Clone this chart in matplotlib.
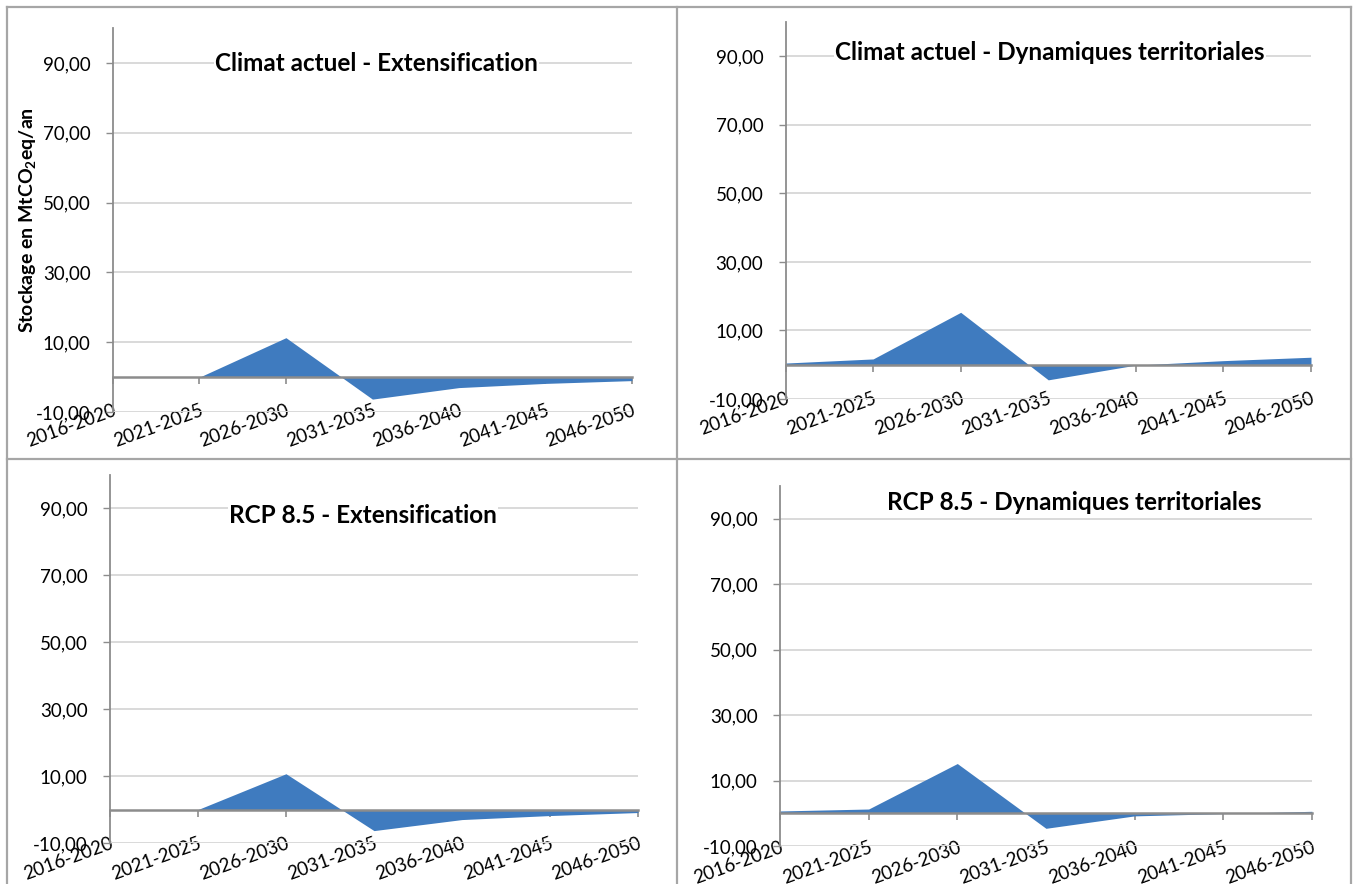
import matplotlib
matplotlib.use("Agg")
import matplotlib.pyplot as plt
from matplotlib.lines import Line2D

plt.rcParams['font.family'] = ['Lato', 'DejaVu Sans']
plt.rcParams['mathtext.fontset'] = 'custom'
plt.rcParams['mathtext.rm'] = 'Lato'
plt.rcParams['mathtext.bf'] = 'Lato:bold'

periods = ["2016-2020", "2021-2025", "2026-2030", "2031-2035",
           "2036-2040", "2041-2045", "2046-2050"]

actuel_extensification = [0.0, 0.0, 11.3, -6.3, -3.0, -1.8, -1.0]
actuel_dynamiques = [0.5, 1.7, 15.3, -4.4, -0.1, 1.2, 2.2]
rcp85_extensification = [0.0, 0.0, 10.7, -6.3, -3.0, -1.8, -0.9]
rcp85_dynamiques = [0.7, 1.3, 15.2, -4.6, -0.8, -0.1, 0.6]

titles = ["Climat actuel - Extensification",
          "Climat actuel - Dynamiques territoriales",
          "RCP 8.5 - Extensification",
          "RCP 8.5 - Dynamiques territoriales"]

y_ticks = [-10, 10, 30, 50, 70, 90]
y_min, y_max = -10, 100

FILL = "#3f7bbf"
AXIS = "#8c8c8c"
GRID = "#d9d9d9"
BORDER = "#a6a6a6"

# layout: axes rectangle (figure fraction) and title position (axes fraction)
panels = [
    (actuel_extensification, titles[0], [0.0833, 0.5339, 0.3827, 0.4344], (0.508, 0.908)),
    (actuel_dynamiques, titles[1], [0.5793, 0.5486, 0.3875, 0.4265], (0.503, 0.918)),
    (rcp85_extensification, titles[2], [0.0811, 0.0464, 0.3894, 0.4163], (0.479, 0.889)),
    (rcp85_dynamiques, titles[3], [0.5752, 0.0430, 0.3923, 0.4072], (0.553, 0.953)),
]

fig = plt.figure(figsize=(13.56, 8.84), dpi=100)

x = list(range(len(periods)))
for i, (values, title, rect, title_pos) in enumerate(panels):
    ax = fig.add_axes(rect)

    # move the category axis to zero first (this resets the ticks)
    for side in ["top", "right"]:
        ax.spines[side].set_visible(False)
    ax.spines["bottom"].set_position(("data", 0))
    ax.spines["bottom"].set_color(AXIS)
    ax.spines["bottom"].set_linewidth(1.8)
    ax.spines["bottom"].set_zorder(3)
    ax.spines["left"].set_color(AXIS)
    ax.spines["left"].set_linewidth(1.3)

    ax.fill_between(x, 0, values, color=FILL, lw=0)
    ax.set_xlim(x[0], x[-1])
    ax.set_ylim(y_min, y_max)

    ax.set_yticks(y_ticks)
    ax.set_yticklabels([f"{v:.2f}".replace(".", ",") for v in y_ticks], fontsize=13.5)
    ax.set_xticks(x)
    ax.set_xticklabels(periods, rotation=20, ha="right", va="top",
                       rotation_mode="anchor", fontsize=13.5)

    ax.yaxis.grid(True, color=GRID, lw=1.4)
    ax.set_axisbelow(True)

    ax.tick_params(axis="x", direction="out", length=5, width=1.2, color=AXIS, pad=13)
    ax.tick_params(axis="y", direction="out", length=5, width=1.0, color=AXIS, pad=11)

    ax.text(title_pos[0], title_pos[1], title, transform=ax.transAxes,
            ha="center", va="center", fontsize=17.5, fontweight="bold",
            bbox=dict(facecolor="white", edgecolor="none", pad=1))

    if i == 0:
        ax.set_ylabel(r"Stockage en MtCO$_\mathbf{2}$eq/an", fontsize=14,
                      fontweight="bold")
        ax.yaxis.set_label_coords(-0.142, 0.5)

# table borders around the four charts
border_lines = [
    ([0.0052, 0.9963], [0.992, 0.992]),
    ([0.0052, 0.0052], [0.0, 0.992]),
    ([0.9963, 0.9963], [0.0, 0.992]),
    ([0.4993, 0.4993], [0.0, 0.992]),
    ([0.0052, 0.9963], [0.4808, 0.4808]),
]
for xs, ys in border_lines:
    fig.add_artist(Line2D(xs, ys, color=BORDER, lw=1.6, transform=fig.transFigure))

fig.savefig("out.png", dpi=100)
